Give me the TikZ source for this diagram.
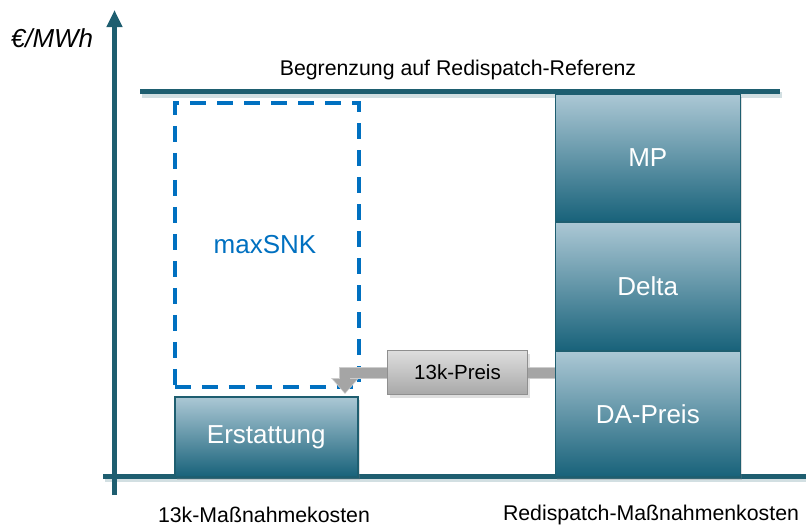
\documentclass[tikz,border=0pt]{standalone}
\usepackage{fontspec}
\setmainfont{Liberation Sans}
\usetikzlibrary{arrows.meta,shadows,calc}
\definecolor{axisteal}{RGB}{30,94,112}
\definecolor{bartop}{RGB}{172,200,213}
\definecolor{barmid}{RGB}{130,172,190}
\definecolor{barbot}{RGB}{24,98,122}
\definecolor{dashblue}{RGB}{0,112,192}
\definecolor{greytop}{RGB}{222,222,222}
\definecolor{greybot}{RGB}{168,168,168}
\definecolor{conngrey}{RGB}{165,165,165}
\definecolor{connedge}{RGB}{205,205,205}
\tikzset{
  axisline/.style={line width=5pt, draw=axisteal},
  barbox/.style={draw=axisteal, line width=1.5pt, top color=bartop, middle color=barmid, bottom color=barbot,
    text=white, font=\fontsize{26}{30}\selectfont, inner sep=0pt, anchor=north west,
    drop shadow={opacity=0.25, shadow xshift=2pt, shadow yshift=-3pt}},
  pricebox/.style={draw=greybot!85!black, line width=1pt, top color=greytop, bottom color=greybot,
    text=black, font=\fontsize{20.5}{24}\selectfont, inner sep=0pt, anchor=north west,
    drop shadow={opacity=0.25, shadow xshift=2pt, shadow yshift=-3pt}},
  plainlabel/.style={font=\fontsize{21.3}{25}\selectfont, text=black, inner sep=0pt},
  connline/.style={line width=10pt, draw=conngrey},
}
\begin{document}
\begin{tikzpicture}[x=1pt,y=-1pt]
\useasboundingbox (0,0) rectangle (806,528);
% axes
\coordinate (ybot) at (114.5,495);
\coordinate (ytop) at (114.5,10);
\coordinate (xleft) at (103,476);
\coordinate (xright) at (806,476);
\draw[axisline, opacity=0.2, line width=6pt] ([shift={(2pt,-3pt)}]xleft) -- ([shift={(2pt,-3pt)}]xright);
\draw[axisline] (xleft) -- (xright);
\draw[axisline, -{Triangle[width=15pt,length=17pt]}] (ybot) -- (ytop);
\node[font=\itshape\fontsize{26}{30}\selectfont, inner sep=0pt] (unit) at (52,38) {€/MWh};
% limit line
\coordinate (limleft) at (140,91.5);
\coordinate (limright) at (780,91.5);
\draw[axisline, opacity=0.2, line width=6pt] ([shift={(2pt,-3pt)}]limleft) -- ([shift={(2pt,-3pt)}]limright);
% right stack
\node[barbox, minimum width=185pt, minimum height=128pt] (mp) at (554.5,93) {MP};
\node[barbox, minimum width=185pt, minimum height=129pt] (delta) at (554.5,221) {Delta};
\node[barbox, minimum width=185pt, minimum height=126pt] (da) at (554.5,350) {DA-Preis};
\draw[axisline] (limleft) -- (limright);
\node[plainlabel] (limtext) at (458,70) {Begrenzung auf Redispatch-Referenz};
% left
\node[draw=dashblue, line width=3.5pt, dash pattern=on 16pt off 11pt, minimum width=184pt, minimum height=284pt, anchor=north west, inner sep=0pt] (maxbox) at (173,101) {};
\node[text=dashblue, font=\fontsize{26}{30}\selectfont, inner sep=0pt] (maxsnk) at (265,245) {maxSNK};
\node[barbox, minimum width=183pt, minimum height=80pt] (erst) at (174,396) {Erstattung};
% 13k price
\node[pricebox, minimum width=140pt, minimum height=44pt] (k13) at (387,350) {13k-Preis};
\coordinate (tip) at (345,394);
\draw[line width=12pt, draw=connedge] (da.west |- k13.east) -- (k13.east);
\draw[connline] (da.west |- k13.east) -- (k13.east);
\draw[line width=12pt, draw=connedge, -{Triangle[width=27pt,length=16pt]}] (k13.west) -| (tip);
\draw[connline, -{Triangle[width=23pt,length=14pt]}, shorten >=1pt] (k13.west) -| (tip);
% bottom labels
\node[plainlabel] (lab1) at (264,515) {13k-Maßnahmekosten};
\node[plainlabel] (lab2) at (651,515) {Redispatch-Maßnahmenkosten};
\end{tikzpicture}
\end{document}
